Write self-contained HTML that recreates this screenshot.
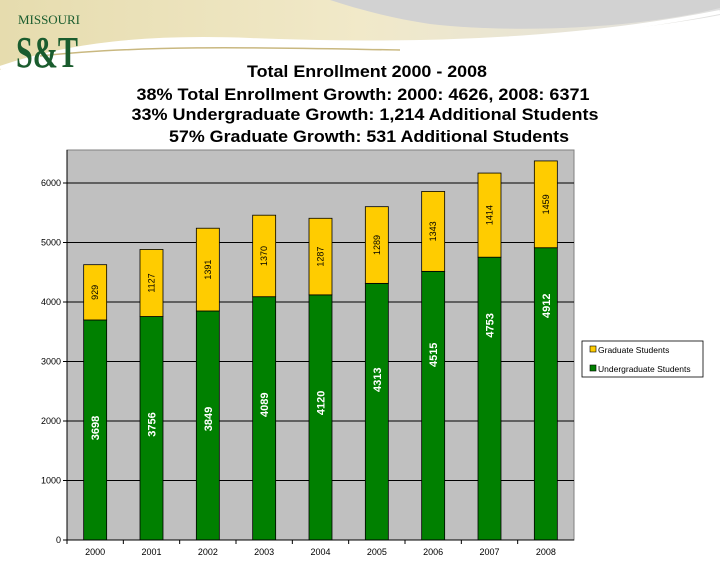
<!DOCTYPE html>
<html><head><meta charset="utf-8"><style>
html,body{margin:0;padding:0;background:#fff}
svg{display:block}
</style></head><body>
<svg id="chart" width="720" height="569" viewBox="0 0 720 569" xmlns="http://www.w3.org/2000/svg" font-family="Liberation Sans, sans-serif">
<defs>
<linearGradient id="sw" x1="0" y1="0" x2="1" y2="0">
<stop offset="0" stop-color="#e6dcae"/><stop offset="0.5" stop-color="#f1e9c9"/><stop offset="1" stop-color="#e0e0e0"/>
</linearGradient>
</defs>
<g>
<path d="M0 0 H720 V15 C600 38 420 46 250 40 C150 37 70 45 0 70 Z" fill="url(#sw)"/>
<path d="M330 0 H720 V8 C640 28 520 34 430 24 C385 17 355 8 330 0 Z" fill="#d2d2d2"/>
<path d="M0 68 C70 44 150 36 250 40 C420 47 580 40 720 12" stroke="#fff" stroke-width="4" fill="none"/>
<path d="M40 56 C150 44 280 48 400 50" stroke="#c9b880" stroke-width="1.5" fill="none"/>
</g>
<g>
<text x="18" y="24" font-family="Liberation Serif, serif" font-size="13" fill="#1a5c2e" textLength="62">MISSOURI</text>
<text x="16" y="67" font-family="Liberation Serif, serif" font-weight="bold" font-size="44" fill="#1a5c2e" textLength="62" lengthAdjust="spacingAndGlyphs">S&amp;T</text>
</g>
<g font-weight="bold" font-size="17" text-anchor="middle" fill="#000">
<text x="367" y="77" textLength="240" lengthAdjust="spacingAndGlyphs">Total Enrollment 2000 - 2008</text>
<text x="363" y="100" textLength="453" lengthAdjust="spacingAndGlyphs">38% Total Enrollment Growth:  2000: 4626, 2008: 6371</text>
<text x="365" y="120" textLength="467" lengthAdjust="spacingAndGlyphs">33% Undergraduate Growth: 1,214 Additional Students</text>
<text x="369" y="142" textLength="400" lengthAdjust="spacingAndGlyphs">57% Graduate Growth: 531 Additional Students</text>
</g>
<rect x="67" y="150" width="507" height="390" fill="#c0c0c0" stroke="#808080"/>
<g id="grid"></g>
<g id="bars"></g>
<g id="axes"></g>
<g>
<rect x="582" y="341" width="121" height="36" fill="#fff" stroke="#000" stroke-width="0.8"/>
<rect x="590" y="346" width="6" height="6" fill="#ffcc00" stroke="#000" stroke-width="0.6"/>
<text x="598" y="353" font-size="8.5">Graduate Students</text>
<rect x="590" y="365" width="6" height="6" fill="#008000" stroke="#000" stroke-width="0.6"/>
<text x="598" y="372" font-size="8.5">Undergraduate Students</text>
</g>
</svg>
<script>
const years = ['2000','2001','2002','2003','2004','2005','2006','2007','2008'];
const undergrad = [3698,3756,3849,4089,4120,4313,4515,4753,4912];
const grad = [929,1127,1391,1370,1287,1289,1343,1414,1459];
const yTicks = [0,1000,2000,3000,4000,5000,6000];

const NS='http://www.w3.org/2000/svg';
const X0=67,X1=574,Y0=540,PX_PER=59.5/1000;
const catW=(X1-X0)/years.length, barW=23;
const y=v=>Y0-v*PX_PER;
const xc=i=>X0+catW*(i+0.5);
function mk(t,a,p){const e=document.createElementNS(NS,t);for(const k in a)e.setAttribute(k,a[k]);p.appendChild(e);return e;}
const grid=document.getElementById('grid'),bars=document.getElementById('bars'),axes=document.getElementById('axes');
yTicks.forEach(t=>{
  if(t>0){const l=mk('line',{x1:X0,x2:X1,y1:y(t),y2:y(t),stroke:'#000','stroke-width':1},grid);
  
  }
  const tk=mk('line',{x1:X0-4,x2:X0,y1:y(t),y2:y(t),stroke:'#000'},axes);
  
  
  const tx=mk('text',{x:X0-6,y:y(t)+3,'font-size':9,'text-anchor':'end'},axes);
  tx.textContent=t;
  
  
});
mk('line',{x1:X0,x2:X0,y1:150,y2:Y0,stroke:'#000'},axes);
mk('line',{x1:X0,x2:X1,y1:Y0,y2:Y0,stroke:'#000'},axes);
years.forEach((yr,i)=>{
  const cx=xc(i),bx=cx-barW/2,u=undergrad[i],g=grad[i];
  const r1=mk('rect',{x:bx,y:y(u),width:barW,height:y(0)-y(u),fill:'#008000',stroke:'#000','stroke-width':0.8},bars);
  
  
  const r2=mk('rect',{x:bx,y:y(u+g),width:barW,height:y(u)-y(u+g),fill:'#ffcc00',stroke:'#000','stroke-width':0.8},bars);
  
  
  const off=Math.min(108,110-(u-4100)*0.064);
  const my=y(u)+off;
  const t1=mk('text',{x:cx+4,y:my,'font-size':11,'font-weight':'bold',fill:'#fff','text-anchor':'middle',transform:`rotate(-90 ${cx+4} ${my})`},bars);
  t1.textContent=u;
  
  
  const gy=y(u+g/2);
  const t2=mk('text',{x:cx+3,y:gy,'font-size':9,fill:'#000','text-anchor':'middle',transform:`rotate(-90 ${cx+3} ${gy})`},bars);
  t2.textContent=g;
  
  
  const tk=mk('line',{x1:X0+catW*i,x2:X0+catW*i,y1:Y0,y2:Y0+4,stroke:'#000'},axes);
  
  
  const xl=mk('text',{x:cx,y:555,'font-size':9,'text-anchor':'middle'},axes);
  xl.textContent=yr;
  
  
});
</script>
</body></html>
